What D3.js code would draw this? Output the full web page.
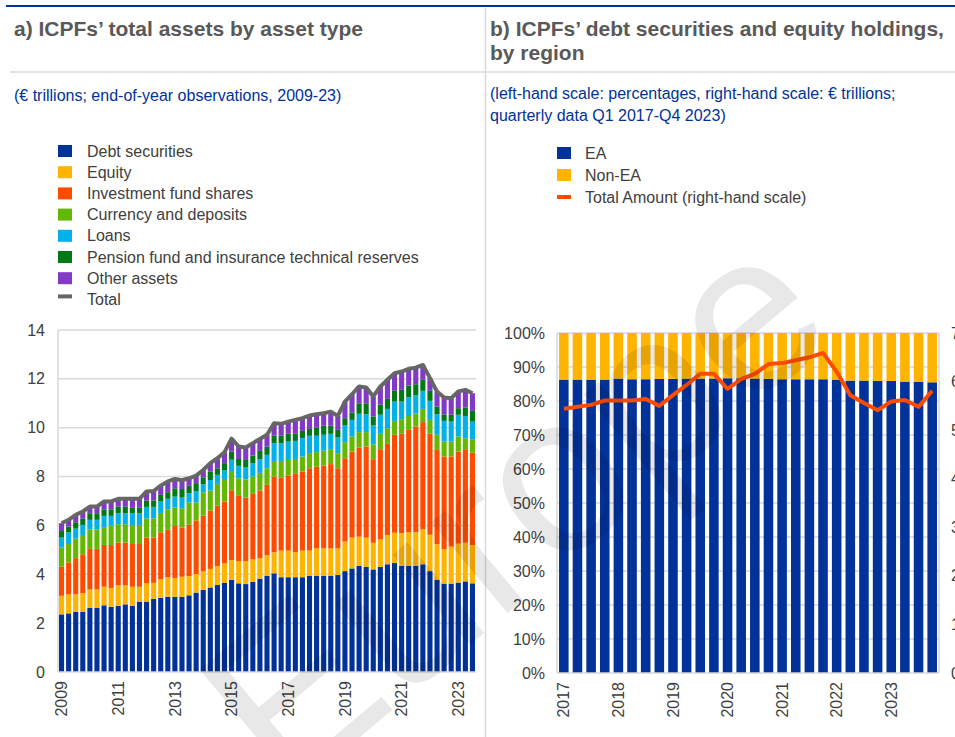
<!DOCTYPE html>
<html>
<head>
<meta charset="utf-8">
<script src="https://cdn.jsdelivr.net/npm/d3@7"></script>
<style>
  body { margin: 0; background: #fff; }
  svg { font-family: "Liberation Sans", Arial, sans-serif; }
</style>
</head>
<body>
<div id="chart"></div>
<script>
// panel a) quarterly 2009 Q1 - 2023 Q3, EUR trillions
var quarters = d3.range(59).map(function (i) { return (2009 + Math.floor(i / 4)) + "Q" + (i % 4 + 1); });
var debtSecurities = [2.36,2.40,2.46,2.46,2.62,2.62,2.73,2.67,2.71,2.77,2.71,2.88,2.88,2.99,3.04,3.08,3.08,3.08,3.14,3.25,3.36,3.46,3.56,3.66,3.77,3.63,3.60,3.69,3.82,3.93,4.04,3.88,3.88,3.88,3.88,3.93,3.93,3.93,3.93,3.97,4.13,4.24,4.35,4.30,4.20,4.30,4.41,4.46,4.35,4.35,4.35,4.41,4.13,3.77,3.62,3.62,3.66,3.71,3.63];
var equity = [0.76,0.78,0.72,0.77,0.76,0.76,0.76,0.77,0.84,0.78,0.78,0.61,0.76,0.66,0.75,0.80,0.77,0.82,0.79,0.76,0.76,0.76,0.78,0.79,0.81,0.91,0.94,0.92,0.83,0.85,0.86,1.09,1.09,1.03,1.09,1.04,1.13,1.13,1.13,1.09,1.21,1.26,1.19,1.20,1.09,1.13,1.20,1.24,1.33,1.37,1.37,1.44,1.49,1.46,1.41,1.51,1.59,1.58,1.57];
var fundShares = [1.19,1.31,1.48,1.59,1.66,1.66,1.71,1.76,1.75,1.75,1.75,1.75,1.86,1.85,1.93,1.94,2.13,2.02,2.10,2.19,2.28,2.39,2.47,2.53,2.86,2.67,2.60,2.68,2.78,2.88,3.10,3.00,3.06,3.20,3.23,3.37,3.34,3.39,3.45,3.28,3.41,3.52,3.65,3.73,3.42,3.69,3.73,4.01,4.07,4.19,4.33,4.38,4.13,3.86,3.79,3.69,3.77,3.83,3.78];
var currencyDeposits = [0.78,0.75,0.80,0.79,0.79,0.79,0.74,0.79,0.75,0.75,0.78,0.78,0.79,0.79,0.79,0.84,0.75,0.78,0.91,0.74,0.96,0.82,0.89,0.92,0.75,0.72,0.74,0.72,0.72,0.68,0.64,0.67,0.65,0.61,0.62,0.62,0.60,0.61,0.61,0.62,0.66,0.62,0.63,0.59,0.61,0.63,0.64,0.57,0.60,0.57,0.53,0.54,0.57,0.62,0.61,0.61,0.62,0.45,0.55];
var loans = [0.41,0.47,0.41,0.41,0.40,0.40,0.45,0.40,0.45,0.45,0.48,0.48,0.47,0.47,0.47,0.43,0.45,0.44,0.38,0.47,0.33,0.43,0.37,0.35,0.50,0.51,0.49,0.54,0.56,0.55,0.73,0.73,0.75,0.74,0.75,0.71,0.67,0.65,0.63,0.64,0.68,0.68,0.75,0.73,0.77,0.78,0.79,0.79,0.72,0.77,0.74,0.74,0.78,0.84,0.85,0.82,0.89,0.91,0.72];
var pensionReserves = [0.27,0.24,0.26,0.27,0.27,0.27,0.27,0.27,0.27,0.27,0.22,0.22,0.26,0.26,0.27,0.27,0.34,0.35,0.30,0.32,0.28,0.34,0.27,0.30,0.33,0.28,0.31,0.31,0.34,0.34,0.30,0.30,0.32,0.29,0.30,0.28,0.34,0.37,0.33,0.31,0.30,0.31,0.43,0.45,0.37,0.41,0.41,0.44,0.48,0.48,0.46,0.45,0.41,0.32,0.27,0.28,0.27,0.35,0.44];
var otherAssets = [0.32,0.28,0.30,0.28,0.27,0.27,0.32,0.32,0.32,0.32,0.37,0.37,0.37,0.39,0.38,0.44,0.38,0.36,0.31,0.31,0.30,0.35,0.41,0.45,0.53,0.51,0.51,0.51,0.49,0.48,0.51,0.49,0.50,0.57,0.52,0.55,0.54,0.51,0.58,0.57,0.68,0.74,0.69,0.65,0.82,0.75,0.78,0.72,0.75,0.68,0.68,0.61,0.52,0.61,0.69,0.68,0.68,0.72,0.72];
var leftTicks = [0, 2, 4, 6, 8, 10, 12, 14];

// panel b) quarterly 2017 Q1 - 2023 Q4
var quartersB = d3.range(28).map(function (i) { return (2017 + Math.floor(i / 4)) + "Q" + (i % 4 + 1); });
var eaShare = [86.3,86.3,86.3,86.3,86.6,86.4,86.4,86.5,86.5,86.6,86.6,86.6,86.7,86.7,86.6,86.5,86.4,86.4,86.4,86.4,86.3,86.0,86.0,85.9,85.9,85.7,85.6,85.5];
var nonEaShare = eaShare.map(function (v) { return +(100 - v).toFixed(1); });
var totalAmount = [5.44,5.48,5.52,5.61,5.61,5.61,5.64,5.50,5.72,5.93,6.16,6.16,5.85,6.05,6.16,6.36,6.38,6.44,6.50,6.59,6.20,5.72,5.56,5.41,5.59,5.62,5.48,5.81];
var pctTicks = [0,10,20,30,40,50,60,70,80,90,100];
var rightTicks = [0,1,2,3,4,5,6,7];

var seriesA = [
  {name: "Debt securities", values: debtSecurities, color: "#003299"},
  {name: "Equity", values: equity, color: "#ffb400"},
  {name: "Investment fund shares", values: fundShares, color: "#ff4b00"},
  {name: "Currency and deposits", values: currencyDeposits, color: "#65b800"},
  {name: "Loans", values: loans, color: "#00b1ea"},
  {name: "Pension fund and insurance technical reserves", values: pensionReserves, color: "#007816"},
  {name: "Other assets", values: otherAssets, color: "#8139c6"}
];

var W = 955, H = 737;
var grid = "#d9d9d9", txt = "#404040";
var FONT = "Liberation Sans, Arial, sans-serif";

var svg = d3.select("#chart").append("svg")
    .attr("width", W).attr("height", H);

// header frame
svg.append("line").attr("x1", 6).attr("x2", W).attr("y1", 6).attr("y2", 6)
    .attr("stroke", "#003299").attr("stroke-width", 2);
svg.append("line").attr("x1", 10).attr("x2", W).attr("y1", 72).attr("y2", 72)
    .attr("stroke", grid).attr("stroke-width", 1.5);
svg.append("line").attr("x1", 485.5).attr("x2", 485.5).attr("y1", 8).attr("y2", H)
    .attr("stroke", grid).attr("stroke-width", 1.5);

function title(x, y, lines) {
  var t = svg.append("text").attr("x", x).attr("y", y)
      .attr("font-size", 21).attr("font-weight", "bold").attr("fill", "#595959");
  lines.forEach(function (l, i) {
    t.append("tspan").attr("x", x).attr("dy", i ? 24 : 0).text(l);
  });
}
function sub(x, y, lines) {
  var t = svg.append("text").attr("x", x).attr("y", y)
      .attr("font-size", 16).attr("fill", "#003299");
  lines.forEach(function (l, i) {
    t.append("tspan").attr("x", x).attr("dy", i ? 22 : 0).text(l);
  });
}
title(14, 36, ["a) ICPFs\u2019 total assets by asset type"]);
title(490, 36, ["b) ICPFs\u2019 debt securities and equity holdings,", "by region"]);
sub(14, 101, ["(\u20ac trillions; end-of-year observations, 2009-23)"]);
sub(490, 99, ["(left-hand scale: percentages, right-hand scale: \u20ac trillions;", "quarterly data Q1 2017-Q4 2023)"]);

// ---------- panel a ----------
var xa = d3.scaleBand().domain(quarters).range([58, 476]).paddingInner(0.28).paddingOuter(0.14);
var ya = d3.scaleLinear().domain([0, 14]).range([672, 330]);

var ga = svg.append("g");
ga.selectAll(".gridA").data(leftTicks.slice(1)).enter().append("line")
    .attr("x1", 58).attr("x2", 476)
    .attr("y1", function (d) { return ya(d); }).attr("y2", function (d) { return ya(d); })
    .attr("stroke", grid).attr("stroke-width", 1.5);

var stackA = d3.stack().keys(d3.range(seriesA.length))
    .value(function (i, k) { return seriesA[k].values[i]; })(d3.range(quarters.length));

stackA.forEach(function (layer, k) {
  ga.selectAll(".s" + k).data(layer).enter().append("rect")
      .attr("x", function (d, i) { return xa(quarters[i]); })
      .attr("width", xa.bandwidth())
      .attr("y", function (d) { return ya(d[1]); })
      .attr("height", function (d) { return ya(d[0]) - ya(d[1]); })
      .attr("fill", seriesA[k].color);
});

var totals = quarters.map(function (q, i) { return d3.sum(seriesA, function (s) { return s.values[i]; }); });
ga.append("path").datum(totals)
    .attr("d", d3.line().x(function (d, i) { return xa(quarters[i]) + xa.bandwidth() / 2; }).y(function (d) { return ya(d); }))
    .attr("fill", "none").attr("stroke", "#666666").attr("stroke-width", 4).attr("stroke-linejoin", "round");

ga.append("line").attr("x1", 58).attr("x2", 58).attr("y1", 330).attr("y2", 672).attr("stroke", grid).attr("stroke-width", 1.5);
ga.append("line").attr("x1", 58).attr("x2", 476).attr("y1", 672).attr("y2", 672).attr("stroke", grid).attr("stroke-width", 1.5);

var axA = ga.append("g").attr("transform", "translate(58,0)")
    .call(d3.axisLeft(ya).tickValues(leftTicks).tickSize(0).tickPadding(13));
axA.select(".domain").remove();
axA.selectAll("text").attr("font-size", 16).attr("fill", txt).attr("font-family", FONT);

var yearTicksA = quarters.filter(function (q) { return /Q1$/.test(q) && (+q.slice(0, 4)) % 2 === 1; });
var axAx = ga.append("g").attr("transform", "translate(0,672)")
    .call(d3.axisBottom(xa).tickValues(yearTicksA).tickSize(0).tickFormat(function (q) { return q.slice(0, 4); }));
axAx.select(".domain").remove();
axAx.selectAll("text").attr("font-size", 16).attr("fill", txt).attr("font-family", FONT)
    .attr("transform", "rotate(-90)").attr("text-anchor", "end")
    .attr("x", -9).attr("y", 0).attr("dy", "0.35em");

// legend a
var legA = svg.append("g");
seriesA.forEach(function (s, i) {
  var y = 151 + 21.2 * i;
  legA.append("rect").attr("x", 58).attr("y", y - 6).attr("width", 14).attr("height", 12).attr("fill", s.color);
  legA.append("text").attr("x", 87).attr("y", y).attr("dy", "0.35em").attr("font-size", 16).attr("fill", txt).text(s.name);
});
legA.append("rect").attr("x", 58).attr("y", 151 + 21.2 * 7 - 5).attr("width", 14).attr("height", 4).attr("fill", "#666666");
legA.append("text").attr("x", 87).attr("y", 151 + 21.2 * 7).attr("dy", "0.35em").attr("font-size", 16).attr("fill", txt).text("Total");

// ---------- panel b ----------
var xb = d3.scaleBand().domain(quartersB).range([557, 939]).paddingInner(0.3).paddingOuter(0.15);
var yb = d3.scaleLinear().domain([0, 100]).range([673, 333]);
var yb2 = d3.scaleLinear().domain([0, 7]).range([673, 333]);

var gb = svg.append("g");
gb.selectAll(".gridB").data(pctTicks.slice(1)).enter().append("line")
    .attr("x1", 557).attr("x2", 939)
    .attr("y1", function (d) { return yb(d); }).attr("y2", function (d) { return yb(d); })
    .attr("stroke", grid).attr("stroke-width", 1.5);

var stackB = d3.stack().keys([0, 1])
    .value(function (i, k) { return k === 0 ? eaShare[i] : nonEaShare[i]; })(d3.range(quartersB.length));
var colB = ["#003299", "#ffb400"];
stackB.forEach(function (layer, k) {
  gb.selectAll(".b" + k).data(layer).enter().append("rect")
      .attr("x", function (d, i) { return xb(quartersB[i]); })
      .attr("width", xb.bandwidth())
      .attr("y", function (d) { return yb(d[1]); })
      .attr("height", function (d) { return yb(d[0]) - yb(d[1]); })
      .attr("fill", colB[k]);
});

gb.append("line").attr("x1", 557).attr("x2", 557).attr("y1", 333).attr("y2", 673).attr("stroke", grid).attr("stroke-width", 1.5);
gb.append("line").attr("x1", 939).attr("x2", 939).attr("y1", 333).attr("y2", 673).attr("stroke", grid).attr("stroke-width", 1.5);
gb.append("line").attr("x1", 557).attr("x2", 939).attr("y1", 673).attr("y2", 673).attr("stroke", grid).attr("stroke-width", 1.5);

gb.append("path").datum(totalAmount)
    .attr("d", d3.line().x(function (d, i) { return xb(quartersB[i]) + xb.bandwidth() / 2; }).y(function (d) { return yb2(d); }))
    .attr("fill", "none").attr("stroke", "#ff4b00").attr("stroke-width", 4).attr("stroke-linejoin", "round");

var axB = gb.append("g").attr("transform", "translate(557,0)")
    .call(d3.axisLeft(yb).tickValues(pctTicks).tickSize(0).tickPadding(12).tickFormat(function (d) { return d + "%"; }));
axB.select(".domain").remove();
axB.selectAll("text").attr("font-size", 16).attr("fill", txt).attr("font-family", FONT);

// right-hand scale: sits at the very edge of the page, as in the original
var axB2 = gb.append("g").attr("transform", "translate(939,0)")
    .call(d3.axisRight(yb2).tickValues(rightTicks).tickSize(0).tickPadding(12));
axB2.select(".domain").remove();
axB2.selectAll("text").attr("font-size", 16).attr("fill", txt).attr("font-family", FONT);

var yearTicksB = quartersB.filter(function (q) { return /Q1$/.test(q); });
var axBx = gb.append("g").attr("transform", "translate(0,673)")
    .call(d3.axisBottom(xb).tickValues(yearTicksB).tickSize(0).tickFormat(function (q) { return q.slice(0, 4); }));
axBx.select(".domain").remove();
axBx.selectAll("text").attr("font-size", 16).attr("fill", txt).attr("font-family", FONT)
    .attr("transform", "rotate(-90)").attr("text-anchor", "end")
    .attr("x", -9).attr("y", 0).attr("dy", "0.35em");

// legend b
var legB = svg.append("g");
[["EA", "#003299"], ["Non-EA", "#ffb400"]].forEach(function (d, i) {
  var y = 153 + 22 * i;
  legB.append("rect").attr("x", 557).attr("y", y - 6).attr("width", 14).attr("height", 12).attr("fill", d[1]);
  legB.append("text").attr("x", 585).attr("y", y).attr("dy", "0.35em").attr("font-size", 16).attr("fill", txt).text(d[0]);
});
legB.append("rect").attr("x", 557).attr("y", 197 - 2).attr("width", 14).attr("height", 4).attr("fill", "#ff4b00");
legB.append("text").attr("x", 585).attr("y", 197).attr("dy", "0.35em").attr("font-size", 16).attr("fill", txt).text("Total Amount (right-hand scale)");

// watermark
svg.append("text").attr("transform", "translate(285,800) rotate(-40)")
    .attr("font-size", 225).attr("font-family", FONT)
    .attr("fill", "#000").attr("fill-opacity", 0.09).text("Europe");
</script>
</body>
</html>
